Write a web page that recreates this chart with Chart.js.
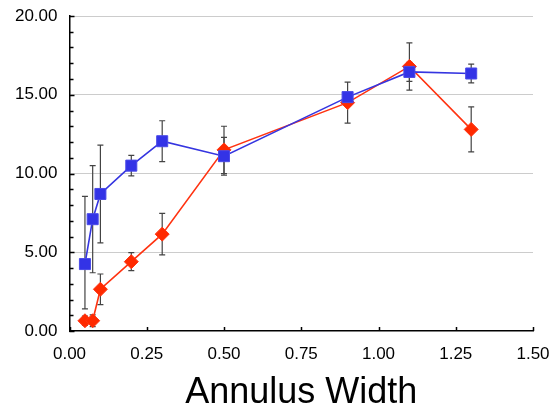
<!DOCTYPE html>
<html>
<head>
<meta charset="utf-8">
<script src="https://cdn.jsdelivr.net/npm/chart.js@4/dist/chart.umd.min.js"></script>
<style>
	html, body { margin: 0; padding: 0; background: #fff; }
	#wrap { width: 552px; height: 410px; position: relative; }
</style>
</head>
<body>
<div id="wrap"><canvas id="annulus_chart"></canvas></div>
<script>
// annulus widths (x) and the two measured series with their error bars
var widths = [0.05, 0.075, 0.1, 0.2, 0.3, 0.5, 0.9, 1.1, 1.3];

var blueMean = [4.25, 7.1, 8.7, 10.5, 12.05, 11.1, 14.85, 16.45, 16.35];
var blueErrUp = [4.3, 3.4, 3.1, 0.65, 1.3, 1.2, 0.3, 0.6, 0.6];
var blueErrDown = [2.85, 3.4, 3.1, 0.65, 1.3, 1.2, 0.3, 0.6, 0.6];

var redMean = [0.65, 0.65, 2.65, 4.4, 6.15, 11.5, 14.5, 16.8, 12.8];
var redErrUp = [0.3, 0.37, 0.97, 0.57, 1.32, 1.5, 1.3, 1.5, 1.43];
var redErrDown = [0.3, 0.37, 0.97, 0.57, 1.32, 1.5, 1.3, 1.5, 1.43];

var xTicks = [0, 0.25, 0.5, 0.75, 1, 1.25, 1.5];
var yTicks = [0, 5, 10, 15, 20];

function ucwp_points(xs, ys, up, down) {
	var pts = [];
	for (var i = 0; i < xs.length; i++) {
		pts.push({x: xs[i], y: ys[i], hi: ys[i] + up[i], lo: ys[i] - down[i]});
	}
	return pts;
}

// error bars, drawn under the markers
const errorBars = {
	id: 'errorBars',
	beforeDatasetsDraw(chart) {
		const ctx = chart.ctx;
		const x = chart.scales.x, y = chart.scales.y;
		ctx.save();
		ctx.strokeStyle = '#444';
		ctx.lineWidth = 1.2;
		chart.data.datasets.forEach(function (ds) {
			ds.data.forEach(function (p) {
				const px = x.getPixelForValue(p.x);
				const top = y.getPixelForValue(p.hi);
				const bot = y.getPixelForValue(p.lo);
				ctx.beginPath();
				ctx.moveTo(px, top); ctx.lineTo(px, bot);
				ctx.moveTo(px - 3, top); ctx.lineTo(px + 3, top);
				ctx.moveTo(px - 3, bot); ctx.lineTo(px + 3, bot);
				ctx.stroke();
			});
		});
		ctx.restore();
	}
};

// small tick marks pointing into the plot
const innerTicks = {
	id: 'innerTicks',
	afterDraw(chart) {
		const ctx = chart.ctx;
		const x = chart.scales.x, y = chart.scales.y;
		const a = chart.chartArea;
		ctx.save();
		ctx.strokeStyle = '#000';
		ctx.lineWidth = 1.5;
		ctx.beginPath();
		for (var v = 0; v <= 20; v += 1) {
			var py = Math.round(y.getPixelForValue(v)) + 0.5;
			ctx.moveTo(a.left, py);
			ctx.lineTo(a.left + (v % 5 == 0 ? 5 : 4), py);
		}
		xTicks.forEach(function (t) {
			var px = Math.round(x.getPixelForValue(t)) + 0.5;
			ctx.moveTo(px, a.bottom);
			ctx.lineTo(px, a.bottom - 4);
		});
		ctx.stroke();
		ctx.restore();
	}
};

const tickFont = {family: "'Liberation Sans', Arial, sans-serif", size: 17};

new Chart(document.getElementById('annulus_chart'), {
	type: 'scatter',
	data: {
		datasets: [{
			label: 'blue',
			data: ucwp_points(widths, blueMean, blueErrUp, blueErrDown),
			showLine: true,
			borderColor: '#3535e0',
			backgroundColor: '#3333e6',
			borderWidth: 1.6,
			pointStyle: 'rect',
			pointRadius: 7.8,
			pointBorderWidth: 1,
			pointBorderColor: '#4a4ae8',
		}, {
			label: 'red',
			data: ucwp_points(widths, redMean, redErrUp, redErrDown),
			showLine: true,
			borderColor: '#ff3311',
			backgroundColor: '#ff2a00',
			borderWidth: 1.6,
			pointStyle: 'rectRot',
			pointRadius: 7,
			pointBorderWidth: 1,
			pointBorderColor: '#ff3311',
		}]
	},
	options: {
		responsive: true,
		maintainAspectRatio: false,
		animation: false,
		layout: {padding: {top: 16, right: 19, left: 2, bottom: 0}},
		plugins: {
			legend: {display: false},
			tooltip: {enabled: false}
		},
		scales: {
			x: {
				type: 'linear',
				min: 0,
				max: 1.5,
				afterBuildTicks: function (s) { s.ticks = xTicks.map(function (v) { return {value: v}; }); },
				// fixed axis band, no extra room for the end labels
				afterFit: function (s) { s.height = 79; s.paddingLeft = 0; s.paddingRight = 0; },
				ticks: {
					color: '#000',
					font: tickFont,
					padding: 13,
					maxRotation: 0,
					callback: function (v) { return Number(v).toFixed(2); }
				},
				grid: {display: false, drawTicks: false},
				border: {display: true, color: '#000', width: 1.5},
				title: {
					display: true,
					text: 'Annulus Width',
					color: '#000',
					font: {family: "'Liberation Sans', Arial, sans-serif", size: 36, lineHeight: 0.92},
					padding: {top: 0, bottom: 0}
				}
			},
			y: {
				min: 0,
				max: 20,
				afterBuildTicks: function (s) { s.ticks = yTicks.map(function (v) { return {value: v}; }); },
				afterFit: function (s) { s.width = 67.5; s.paddingTop = 0; s.paddingBottom = 0; },
				ticks: {
					color: '#000',
					font: tickFont,
					padding: 12,
					callback: function (v) { return Number(v).toFixed(2); }
				},
				grid: {
					drawTicks: false,
					lineWidth: 1,
					color: function (c) { return c.tick && c.tick.value == 0 ? 'rgba(0,0,0,0)' : '#cccccc'; }
				},
				border: {display: true, color: '#000', width: 1.5}
			}
		}
	},
	plugins: [errorBars, innerTicks]
});
</script>
</body>
</html>
